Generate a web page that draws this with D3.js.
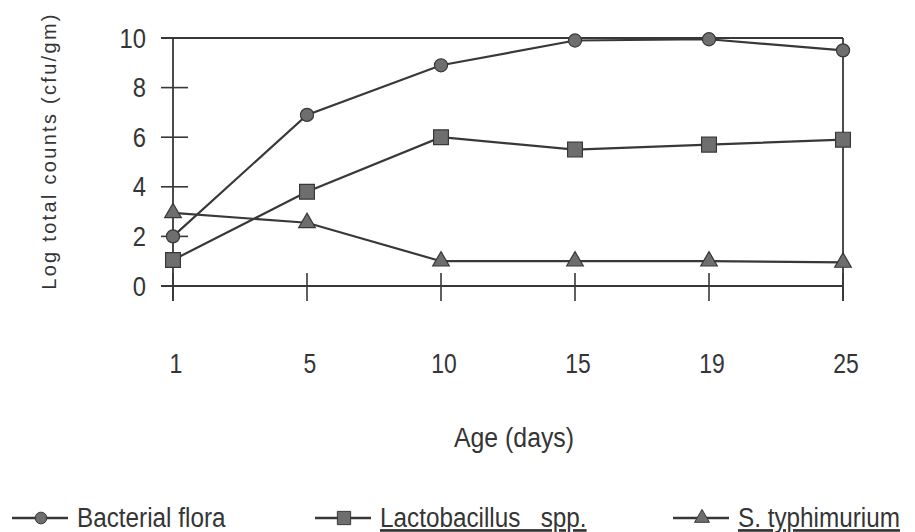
<!DOCTYPE html>
<html>
<head>
<meta charset="utf-8">
<script src="https://cdn.jsdelivr.net/npm/d3@7"></script>
<style>
  body { margin: 0; background: #fff; }
  svg { display: block; }
  text { font-family: "Liberation Sans", Arial, sans-serif; fill: #353535; white-space: pre; }
</style>
</head>
<body>
<div id="chart"></div>
<script>
const days = ["1", "5", "10", "15", "19", "25"];
const bacterialFlora = [2, 6.9, 8.9, 9.9, 9.95, 9.5];
const lactobacillus = [1.05, 3.8, 6, 5.5, 5.7, 5.9];
const typhimurium = [2.95, 2.55, 1, 1, 1, 0.95];
const yTicks = [0, 2, 4, 6, 8, 10];

const width = 915, height = 532;
const ink = "#383838";

const svg = d3.select("#chart").append("svg")
    .attr("width", width)
    .attr("height", height);

const x = d3.scalePoint().domain(days).range([173, 843]);
const y = d3.scaleLinear().domain([0, 10]).range([286, 38]);

// condensed text: the scan uses a narrow face, so squeeze Liberation a bit
function label(sel, tx, ty, size, anchor, sx) {
  return sel.append("text")
      .attr("transform", `translate(${tx},${ty}) scale(${sx},1)`)
      .attr("text-anchor", anchor)
      .style("font-size", size + "px");
}

// frame: top line and right line
svg.append("line")
    .attr("x1", 161).attr("x2", x("25"))
    .attr("y1", y(10)).attr("y2", y(10))
    .attr("stroke", ink).attr("stroke-width", 1.8);
svg.append("line")
    .attr("x1", x("25")).attr("x2", x("25"))
    .attr("y1", y(10)).attr("y2", y(0) + 15)
    .attr("stroke", ink).attr("stroke-width", 1.8);

// y axis with crossing ticks
svg.append("line")
    .attr("x1", x("1")).attr("x2", x("1"))
    .attr("y1", y(10)).attr("y2", y(0) + 15)
    .attr("stroke", ink).attr("stroke-width", 1.8);
svg.selectAll(".ytick").data(yTicks).enter().append("line")
    .attr("x1", 161).attr("x2", 188)
    .attr("y1", d => y(d)).attr("y2", d => y(d))
    .attr("stroke", ink).attr("stroke-width", 1.6);
yTicks.forEach(d => {
  label(svg, 146, y(d) + 9.5, 27, "end", 0.88).text(d);
});

// x axis with crossing ticks
svg.append("line")
    .attr("x1", 161).attr("x2", x("25"))
    .attr("y1", y(0)).attr("y2", y(0))
    .attr("stroke", ink).attr("stroke-width", 1.8);
svg.selectAll(".xtick").data(days).enter().append("line")
    .attr("x1", d => x(d)).attr("x2", d => x(d))
    .attr("y1", y(0) - 13).attr("y2", y(0) + 15)
    .attr("stroke", ink).attr("stroke-width", 1.6);
days.forEach(d => {
  label(svg, x(d) + 3, 373, 27, "middle", 0.85).text(d);
});

label(svg, 514, 447, 27, "middle", 0.92).text("Age (days)");
svg.append("text")
    .attr("transform", "translate(56,151) rotate(-90)")
    .attr("text-anchor", "middle")
    .style("font-size", "20px")
    .style("letter-spacing", "2.3px")
    .text("Log total counts (cfu/gm)");

const series = [
  { name: "Bacterial flora", values: bacterialFlora, shape: d3.symbolCircle, size: 135, underline: false },
  { name: "Lactobacillus   spp.", values: lactobacillus, shape: d3.symbolSquare, size: 220, underline: true },
  { name: "S. typhimurium", values: typhimurium, shape: d3.symbolTriangle, size: 120, underline: true }
];

const line = d3.line().x((d, i) => x(days[i])).y(d => y(d));

series.forEach(s => {
  svg.append("path")
      .datum(s.values)
      .attr("d", line)
      .attr("fill", "none")
      .attr("stroke", ink)
      .attr("stroke-width", 2.2);
  svg.selectAll(null).data(s.values).enter().append("path")
      .attr("d", d3.symbol().type(s.shape).size(s.size))
      .attr("transform", (d, i) => `translate(${x(days[i])},${y(d)})`)
      .attr("fill", "#6e6e6e")
      .attr("stroke", ink)
      .attr("stroke-width", 1.2);
});

// legend
const legendX = [12, 315, 673];
series.forEach((s, i) => {
  const g = svg.append("g").attr("transform", `translate(${legendX[i]},518)`);
  g.append("line").attr("x1", 0).attr("x2", 56).attr("y1", 0).attr("y2", 0)
      .attr("stroke", ink).attr("stroke-width", 2.4);
  g.append("path").attr("d", d3.symbol().type(s.shape).size(s.size * 0.8))
      .attr("transform", "translate(29,0)")
      .attr("fill", "#6e6e6e").attr("stroke", ink).attr("stroke-width", 1);
  label(g, 65, 9, 27, "start", 0.9)
      .style("text-decoration", s.underline ? "underline" : "none")
      .text(s.name);
});
</script>
</body>
</html>
